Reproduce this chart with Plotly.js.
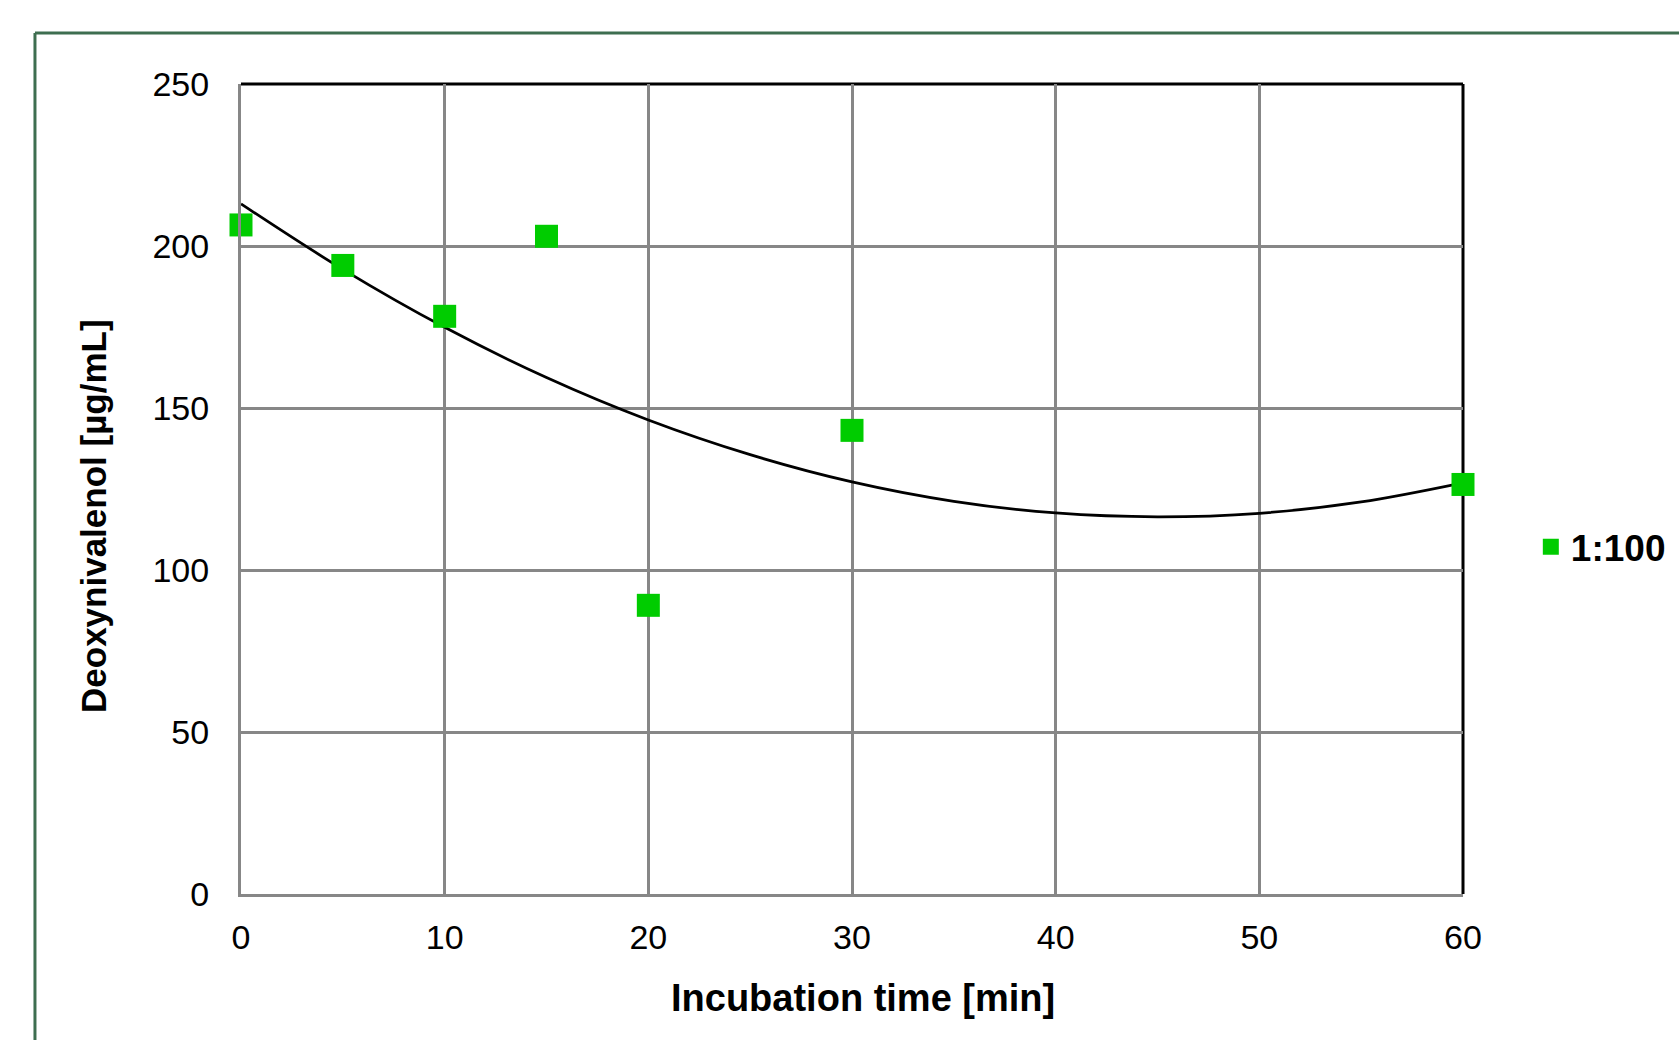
<!DOCTYPE html>
<html>
<head>
<meta charset="utf-8">
<script src="https://cdn.plot.ly/plotly-3.0.1.min.js"></script>
<style>
  html, body { margin: 0; padding: 0; background: #fff; }
  #chart { width: 1679px; height: 1040px; }
</style>
</head>
<body>
<div id="chart"></div>
<script>
// Measured points (series "1:100")
const incubationTime = [0, 5, 10, 15, 20, 30, 60];
const donValues = [206.5, 194.0, 178.3, 203.0, 89.1, 143.1, 126.4];
const seriesName = "1:100";

// Trendline values
const trendX = [0, 5, 10, 15, 20, 25, 30, 35, 40, 45, 50, 55, 60];
const trendY = [213.0, 192.8, 174.9, 159.4, 146.3, 135.6, 127.2, 121.2, 117.6, 116.4, 117.5, 121.0, 126.9];

// Ticks
const xTicks = [0, 10, 20, 30, 40, 50, 60];
const yTicks = [0, 50, 100, 150, 200, 250];

const xTitle = "Incubation time [min]";
const yTitle = "Deoxynivalenol [µg/mL]";

const FONT = "Liberation Sans, Arial, sans-serif";
const GRID = "#878787";

const traces = [
  {
    x: trendX, y: trendY, mode: "lines", type: "scatter",
    line: { color: "#000000", width: 2.75, shape: "spline" },
    showlegend: false, hoverinfo: "skip"
  },
  {
    x: incubationTime, y: donValues, mode: "markers", type: "scatter",
    name: seriesName,
    marker: { symbol: "square", size: 23, color: "#00CC00" },
    cliponaxis: false
  }
];

const layout = {
  width: 1679, height: 1040,
  margin: { l: 241, r: 216, t: 84, b: 146, autoexpand: false },
  paper_bgcolor: "#ffffff", plot_bgcolor: "#ffffff",
  font: { family: FONT, color: "#000000" },
  showlegend: true,
  legend: {
    x: 1.0555, xanchor: "left", y: 0.428, yanchor: "middle",
    font: { family: FONT, size: 37, color: "#000", weight: "bold" },
    bgcolor: "rgba(0,0,0,0)", borderwidth: 0
  },
  xaxis: {
    range: [0, 60], tickvals: xTicks, ticktext: xTicks.map(String),
    showgrid: true, gridcolor: GRID, gridwidth: 3,
    zeroline: false, showline: true, linecolor: GRID, linewidth: 3,
    ticks: "", ticklabelstandoff: 11,
    tickfont: { family: FONT, size: 34, color: "#000" },
    fixedrange: true, automargin: false
  },
  yaxis: {
    range: [0, 250], tickvals: yTicks, ticktext: yTicks.map(String),
    showgrid: true, gridcolor: GRID, gridwidth: 3,
    zeroline: false, showline: true, linecolor: GRID, linewidth: 3,
    ticks: "", ticklabelstandoff: 22,
    tickfont: { family: FONT, size: 34, color: "#000" },
    fixedrange: true, automargin: false
  },
  annotations: [
    { text: "<b>" + xTitle + "</b>", xref: "paper", yref: "paper",
      x: 0.5087, y: -0.1278, xanchor: "center", yanchor: "middle", showarrow: false,
      font: { family: FONT, size: 38, color: "#000" } },
    { text: "<b>" + yTitle + "</b>", xref: "paper", yref: "paper",
      x: -0.1203, y: 0.4667, xanchor: "center", yanchor: "middle", showarrow: false,
      textangle: -90,
      font: { family: FONT, size: 35, color: "#000" } }
  ],
  shapes: [
    // outer green chart frame (left and top edges, runs off the page)
    { type: "line", xref: "paper", yref: "paper", x0: -0.1686, x1: -0.1686, y0: 1.063, y1: -0.3,
      line: { color: "#3E6E50", width: 3 }, layer: "below" },
    { type: "line", xref: "paper", yref: "paper", x0: -0.1686, x1: 1.3, y0: 1.063, y1: 1.063,
      line: { color: "#3E6E50", width: 3 }, layer: "below" },
    // black top and right plot borders
    { type: "line", xref: "paper", yref: "paper", x0: 0, x1: 1, y0: 1, y1: 1,
      line: { color: "#000000", width: 3 }, layer: "below" },
    { type: "line", xref: "paper", yref: "paper", x0: 1, x1: 1, y0: 0, y1: 1,
      line: { color: "#000000", width: 3 }, layer: "below" }
  ]
};

Plotly.newPlot("chart", traces, layout, { staticPlot: true, displayModeBar: false });
</script>
</body>
</html>
